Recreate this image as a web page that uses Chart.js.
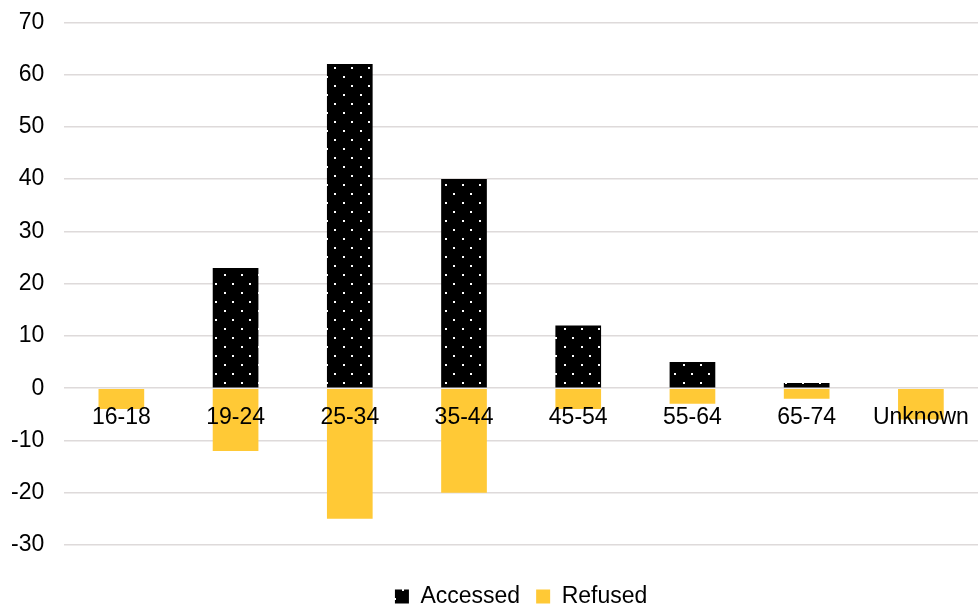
<!DOCTYPE html>
<html>
<head>
<meta charset="utf-8">
<script src="https://cdn.jsdelivr.net/npm/chart.js@4.4.0/dist/chart.umd.min.js"></script>
<style>
  html, body { margin: 0; padding: 0; background: #fff; }
  #wrap { width: 978px; height: 606px; }
</style>
</head>
<body>
<div id="wrap"><canvas id="myChart" width="978" height="606"></canvas></div>
<script>
// data
const ageGroups = ['16-18', '19-24', '25-34', '35-44', '45-54', '55-64', '65-74', 'Unknown']
const accessed = [0, 23, 62, 40, 12, 5, 1, 0]
const refused = [-4, -12, -25, -20, -4, -3, -2, -6]
const yTicks = [-30, -20, -10, 0, 10, 20, 30, 40, 50, 60, 70]

// black with white dots, like the excel fill
function dotPattern() {
  let c = document.createElement('canvas')
  c.width = 17
  c.height = 18
  let g = c.getContext('2d')
  g.fillStyle = '#000'
  g.fillRect(0, 0, 17, 18)
  g.fillStyle = '#fff'
  g.fillRect(3, 4, 2, 2)
  g.fillRect(11, 13, 2, 2)
  return g.createPattern(c, 'repeat')
}

Chart.defaults.font.family = '"Liberation Sans", Arial, sans-serif'
Chart.defaults.font.size = 23
Chart.defaults.color = '#000'

let ctx = document.getElementById('myChart').getContext('2d')
let myChart = new Chart(ctx, {
  type: 'bar',
  data: {
    labels: ageGroups,
    datasets: [{
      label: 'Accessed',
      backgroundColor: dotPattern(),
      data: accessed
    },
    {
      label: 'Refused',
      backgroundColor: '#FFC936',
      data: refused
    }]
  },
  options: {
    responsive: false,
    animation: false,
    layout: { padding: { left: -9, right: 0, top: 20, bottom: -12 } },
    datasets: { bar: { barPercentage: 0.4, categoryPercentage: 1 } },
    scales: {
      x: {
        stacked: true,
        position: { y: 0 },
        grid: { display: false },
        border: { display: false },
        ticks: { padding: 8, maxRotation: 0, autoSkip: false, z: 1 }
      },
      y: {
        stacked: true,
        min: -30,
        max: 70,
        afterBuildTicks: (axis) => { axis.ticks = yTicks.map(v => ({ value: v })) },
        grid: { color: '#dedada', lineWidth: 1.5, drawTicks: false },
        border: { display: false },
        ticks: { padding: 20, font: { lineHeight: 0.2 } }
      }
    },
    plugins: {
      legend: {
        position: 'bottom',
        fullSize: false,
        title: { display: true, text: '', padding: 0, font: { size: 10, lineHeight: '24px' } },
        labels: { boxWidth: 14, boxHeight: 14, padding: 16 }
      },
      tooltip: { enabled: false }
    }
  }
})
</script>
</body>
</html>
